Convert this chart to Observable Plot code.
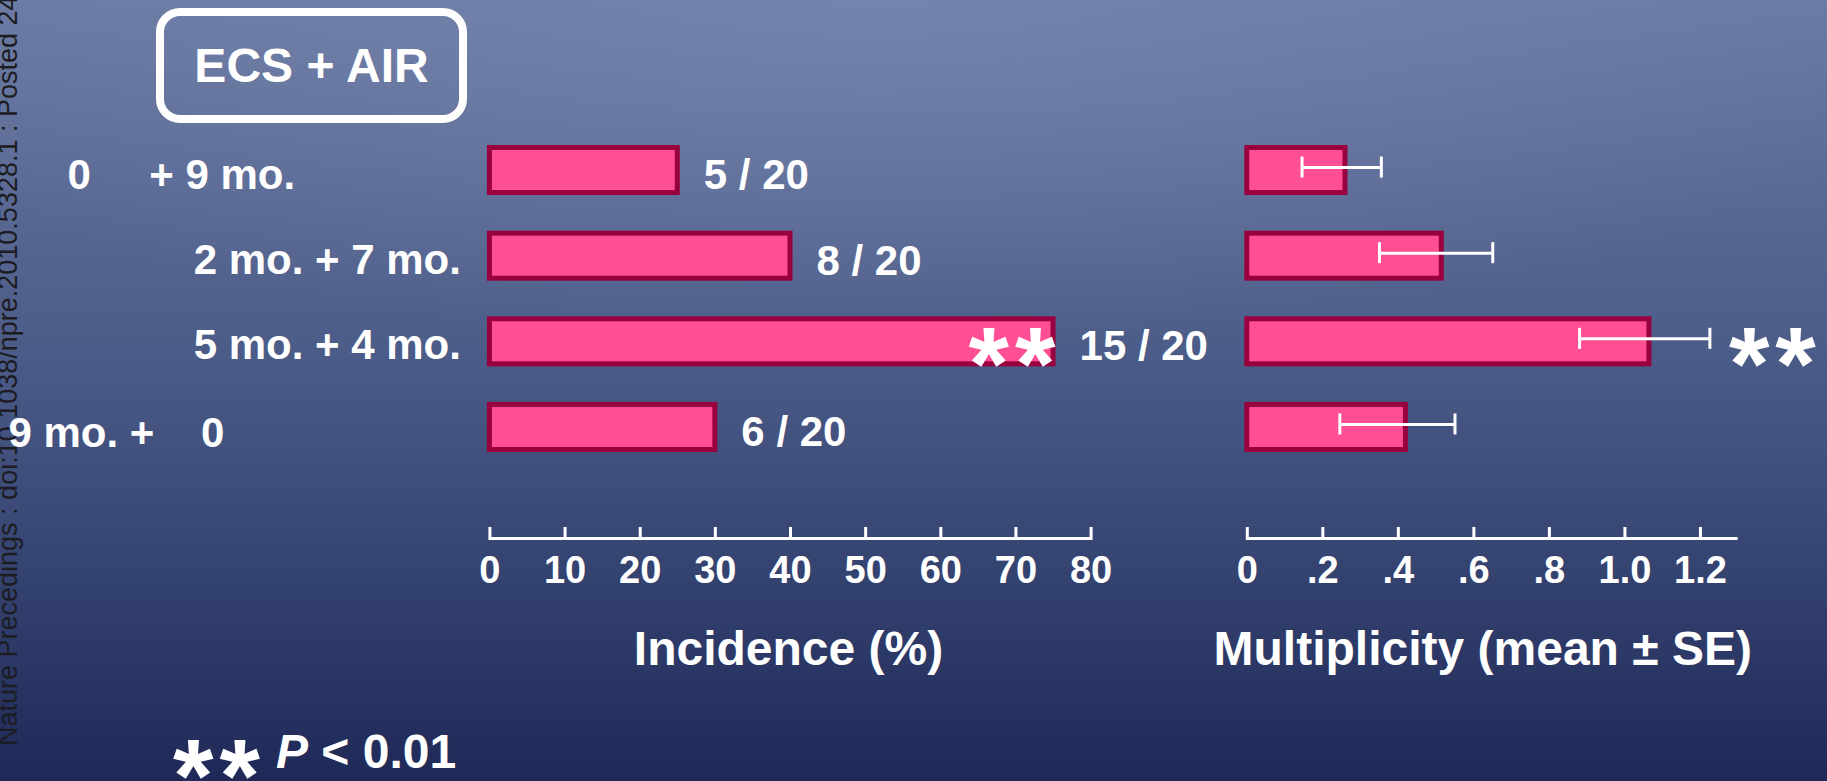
<!DOCTYPE html>
<html>
<head>
<meta charset="utf-8">
<script src="https://cdn.jsdelivr.net/npm/d3@7"></script>
<script src="https://cdn.jsdelivr.net/npm/@observablehq/plot@0.6"></script>
<style>
  html, body { margin: 0; padding: 0; }
  body {
    width: 1827px; height: 781px; overflow: hidden; position: relative;
    font-family: "Liberation Sans", Arial, sans-serif;
    background:
      radial-gradient(ellipse 60% 45% at 48% 0%, rgba(125,140,180,0.55), rgba(125,140,180,0) 100%),
      linear-gradient(180deg, #6a7aa2 0%, #4c5c88 45%, #33416f 75%, #1f2957 100%);
  }
  .layer { position: absolute; left: 0; top: 0; }
  .box {
    position: absolute; left: 156px; top: 8px; width: 311px; height: 115px;
    box-sizing: border-box; border: 8px solid #fff; border-radius: 24px;
    display: flex; align-items: center; justify-content: center;
    color: #fff; font-weight: bold; font-size: 48px;
  }
  .watermark {
    position: absolute; left: 0; top: 0; white-space: nowrap;
    font-size: 27px; line-height: 27px; color: #1c1c22;
    transform-origin: 0 0; transform: translate(-5px, 746px) rotate(-90deg);
  }
  .foot {
    position: absolute; left: 276px; top: 728px; white-space: nowrap;
    color: #fff; font-weight: bold; font-size: 48px; line-height: 48px;
  }
  .foot i { font-style: italic; }
  .footstars {
    position: absolute; left: 173px; top: 724px; white-space: nowrap; letter-spacing: 6px;
    color: #fff; font-weight: bold; font-size: 104px; line-height: 104px;
  }
  g[font-size="104"] { letter-spacing: 6px; }
</style>
</head>
<body>
<div class="watermark">Nature Precedings : doi:10.1038/npre.2010.5328.1 : Posted 24</div>
<div class="box">ECS + AIR</div>
<div id="left" class="layer"></div>
<div id="right" class="layer"></div>
<div class="footstars">**</div>
<div class="foot"><i>P</i> &lt; 0.01</div>
<script>
// ---- data ----
const rows = ["0 + 9 mo.", "2 mo. + 7 mo.", "5 mo. + 4 mo.", "9 mo. + 0"];
const incidence = [25, 40, 75, 30];                 // %
const counts = ["5 / 20", "8 / 20", "15 / 20", "6 / 20"];
const multMean = [0.26, 0.515, 1.065, 0.42];        // bar length
const multLow = [0.145, 0.35, 0.88, 0.245];         // mean - SE (as drawn)
const multHigh = [0.355, 0.65, 1.225, 0.55];        // mean + SE (as drawn)
const significance = ["", "", "**", ""];
const incidenceTicks = [0, 10, 20, 30, 40, 50, 60, 70, 80];
const multTicks = [0, 0.2, 0.4, 0.6, 0.8, 1.0, 1.2];
const multTickLabels = ["0", ".2", ".4", ".6", ".8", "1.0", "1.2"];
const incidenceDomain = [0, 80];
const multDomain = [0, 1.3];

const data = rows.map((r, i) => ({
  row: r, inc: incidence[i], count: counts[i],
  mean: multMean[i], lo: multLow[i], hi: multHigh[i], sig: significance[i]
}));

const NB = "\u00a0";
const rowText = {
  "0 + 9 mo.": "0" + NB.repeat(5) + "+ 9 mo.",
  "2 mo. + 7 mo.": "2 mo. + 7 mo.",
  "5 mo. + 4 mo.": "5 mo. + 4 mo.",
  "9 mo. + 0": "9 mo. +" + NB.repeat(4) + "0"
};

const W = 1827, H = 781, BOTTOM = 540;
const PINK = "#ff4f94", EDGE = "#98003e";
const yScale = {type: "band", domain: rows, range: [147.5, 449.5], paddingInner: 0.474, paddingOuter: 0, round: false, axis: null};
const baseStyle = "background: transparent; color: white; font: bold 38px 'Liberation Sans', Arial, sans-serif; overflow: visible;";
const txt = {fill: "white", fontWeight: "bold"};

// ---- left panel: incidence ----
const left = Plot.plot({
  width: W, height: H,
  marginLeft: 489.4, marginRight: W - 1090.6, marginTop: 0, marginBottom: H - BOTTOM,
  style: baseStyle,
  x: {domain: incidenceDomain, ticks: incidenceTicks, tickSize: 0, tickPadding: 16, tickFormat: d => String(d), label: null},
  y: yScale,
  marks: [
    Plot.barX(data, {x: "inc", y: "row", fill: PINK, stroke: EDGE, strokeWidth: 5}),
    Plot.text(data, {x: "inc", y: "row", text: "count", textAnchor: "start", dx: 26, dy: 5, fontSize: 42, ...txt}),
    Plot.text(data, {x: "inc", y: "row", text: "sig", textAnchor: "end", dx: 8, dy: 25, fontSize: 104, ...txt}),
    Plot.text(data.filter(d => d.row === rows[0]), {y: "row", text: d => rowText[d.row], frameAnchor: "left", textAnchor: "start", dx: 67 - 489.4, dy: 5, fontSize: 42, ...txt}),
    Plot.text(data.filter(d => d.row === rows[1] || d.row === rows[2]), {y: "row", text: d => rowText[d.row], frameAnchor: "left", textAnchor: "end", dx: -29, dy: 4, fontSize: 42, ...txt}),
    Plot.text(data.filter(d => d.row === rows[3]), {y: "row", text: d => rowText[d.row], frameAnchor: "left", textAnchor: "start", dx: 8 - 489.4, dy: 6, fontSize: 42, ...txt}),
    Plot.ruleX(incidenceTicks, {x: d => d, insetTop: 527, stroke: "white", strokeWidth: 3}),
    Plot.rect([incidenceDomain], {x1: d => d[0], x2: d => d[1], insetTop: 537, fill: "white"}),
    Plot.text(["Incidence (%)"], {frameAnchor: "bottom", text: d => d, dy: 124, dx: -2, fontSize: 48, ...txt})
  ]
});
document.getElementById("left").appendChild(left);

// ---- right panel: multiplicity ----
const right = Plot.plot({
  width: W, height: H,
  marginLeft: 1246.8, marginRight: W - 1737.7, marginTop: 0, marginBottom: H - BOTTOM,
  style: baseStyle,
  x: {domain: multDomain, ticks: multTicks, tickSize: 0, tickPadding: 16, tickFormat: d => multTickLabels[multTicks.indexOf(d)], label: null},
  y: yScale,
  marks: [
    Plot.barX(data, {x: "mean", y: "row", fill: PINK, stroke: EDGE, strokeWidth: 5}),
    Plot.ruleY(data, {y: "row", x1: "lo", x2: "hi", dy: -3, stroke: "white", strokeWidth: 3}),
    Plot.tickX(data, {x: "lo", y: "row", dy: -3, insetTop: 12, insetBottom: 12, stroke: "white", strokeWidth: 3}),
    Plot.tickX(data, {x: "hi", y: "row", dy: -3, insetTop: 12, insetBottom: 12, stroke: "white", strokeWidth: 3}),
    Plot.text(data, {x: "hi", y: "row", text: "sig", textAnchor: "start", dx: 19, dy: 25, fontSize: 104, ...txt}),
    Plot.ruleX(multTicks, {x: d => d, insetTop: 527, stroke: "white", strokeWidth: 3}),
    Plot.rect([multDomain], {x1: d => d[0], x2: d => d[1], insetTop: 537, fill: "white"}),
    Plot.text(["Multiplicity (mean \u00b1 SE)"], {frameAnchor: "bottom", text: d => d, dy: 124, dx: -10, fontSize: 48, ...txt})
  ]
});
document.getElementById("right").appendChild(right);
</script>
</body>
</html>
